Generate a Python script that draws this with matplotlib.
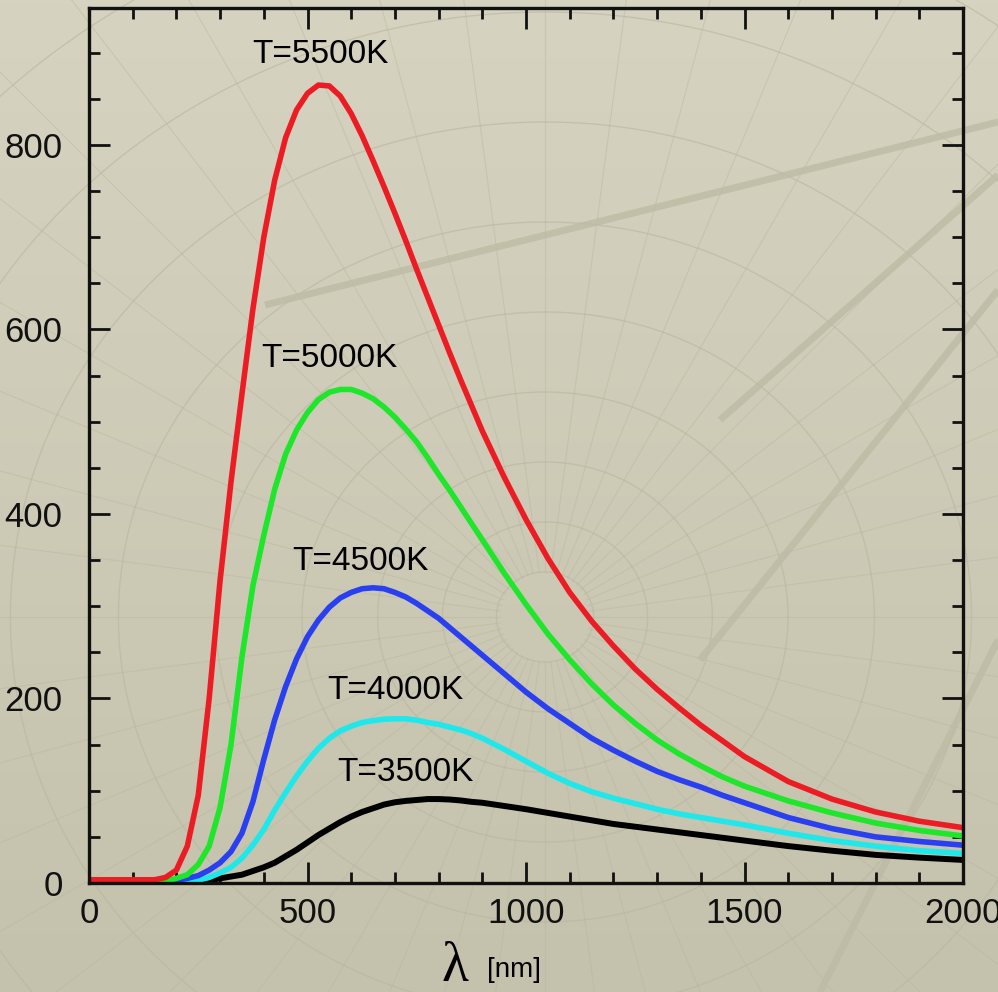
import numpy as np
import matplotlib
matplotlib.use("Agg")
import matplotlib.pyplot as plt
from matplotlib.ticker import MultipleLocator

# longitud de onda [nm]
lam = [0, 100, 150,
       175, 200, 225, 250, 275, 300, 325, 350, 375, 400, 425, 450, 475, 500, 525,
       550, 575, 600, 625, 650, 675, 700, 725, 750, 775, 800, 825, 850, 875, 900,
       950, 1000, 1050, 1100, 1150, 1200, 1250, 1300, 1350, 1400, 1450, 1500,
       1600, 1700, 1800, 1900, 2000]

t5500 = [3.5, 3.5, 3.5,
         6, 14, 40, 95, 200, 328, 435, 530, 622, 700, 762, 808, 838, 856, 865,
         864, 853, 834, 810, 783, 755, 726, 696, 665, 635, 605, 575, 546, 518, 490,
         440, 394, 352, 315, 284, 257, 232, 210, 190, 171, 154, 137,
         110, 91, 77, 67, 60]
t5000 = [1, 1, 1,
         2, 5, 9, 20, 40, 82, 150, 245, 322, 377, 427, 465, 491, 510, 524,
         532, 535, 535, 531, 525, 516, 505, 492, 478, 461, 443, 426, 408, 390, 372,
         336, 302, 270, 242, 216, 193, 173, 155, 140, 127, 115, 105,
         89, 76, 65, 57, 51]
t4500 = [0.8, 0.8, 1,
         1, 3, 5, 8, 14, 22, 34, 54, 88, 134, 177, 213, 243, 267, 285,
         299, 309, 315, 319, 320, 319, 315, 310, 303, 295, 287, 277, 267, 257, 247,
         227, 207, 189, 173, 157, 144, 132, 121, 112, 104, 95, 87,
         71, 59, 50, 45, 41]
t4000 = [0.5, 0.5, 0.5,
         0.5, 1, 2, 3, 6, 11, 17, 27, 41, 58, 79, 98, 116, 132, 146,
         157, 165, 170, 174, 176, 177.5, 178, 178, 176.5, 174, 172, 169, 166, 162, 157,
         145, 132, 119, 108, 99, 92, 86, 80, 75, 71, 67, 63,
         54, 46, 40, 35, 32]
t3500 = [0, 0, 0,
         0, 0.5, 1, 2, 3, 5, 7, 9, 13, 17, 22, 29, 36, 44, 52,
         59, 66, 72, 77, 81, 85, 87.5, 89, 90, 91, 91, 90.5, 89.5, 88, 87,
         83.5, 80, 76, 72, 68, 64, 61, 58, 55, 52, 49, 46,
         40, 35, 30.5, 27.5, 25]

etiquetas = ["T=5500K", "T=5000K", "T=4500K", "T=4000K", "T=3500K"]
pos_etiq = [(529, 898), (551, 569), (620, 348), (700, 209), (723, 120)]

fig = plt.figure(figsize=(9.98, 9.92), dpi=100)

# fondo con degradado y una rejilla polar decorativa
bg = fig.add_axes([0, 0, 1, 1], zorder=0)
grad = np.linspace(0, 1, 256)[:, None]
top = np.array([214, 212, 193]) / 255.0
bot = np.array([196, 194, 172]) / 255.0
img = top[None, None, :] * (1 - grad[:, :, None]) + bot[None, None, :] * grad[:, :, None]
bg.imshow(img, extent=[0, 998, 992, 0], aspect="auto")
cx, cy = 545, 617
th = np.linspace(0, 2 * np.pi, 400)
for r in [45, 95, 155, 225, 305, 395, 495, 605, 725, 855]:
    bg.plot(cx + r * 1.08 * np.cos(th), cy + r * np.sin(th), color="#b8b69f", lw=1.0, alpha=0.6)
for a in np.arange(0, 360, 7.5):
    ang = np.radians(a)
    bg.plot([cx + 45 * np.cos(ang), cx + 1400 * np.cos(ang)],
            [cy + 45 * np.sin(ang), cy + 1400 * np.sin(ang)], color="#b8b69f", lw=0.8, alpha=0.45)
for (x0, y0, x1, y1) in [(265, 305, 998, 122), (720, 420, 998, 175), (700, 660, 998, 290), (820, 992, 998, 640)]:
    bg.plot([x0, x1], [y0, y1], color="#bdbba4", lw=5, alpha=0.8, solid_capstyle="butt")
bg.set_xlim(0, 998)
bg.set_ylim(992, 0)
bg.axis("off")

ax = fig.add_axes([89 / 998, 1 - 883 / 992, 874 / 998, 875 / 992], zorder=1)
ax.patch.set_alpha(0)

ax.plot(lam, t3500, color="black", lw=4.3, solid_joinstyle="round")
ax.plot(lam, t4000, color="#20e8ea", lw=4.0, solid_joinstyle="round")
ax.plot(lam, t4500, color="#2a3ff0", lw=4.0, solid_joinstyle="round")
ax.plot(lam, t5000, color="#1ee62a", lw=4.0, solid_joinstyle="round")
ax.plot(lam, t5500, color="#ec1c24", lw=4.0, solid_joinstyle="round")

fuente = "Liberation Sans"
for txt, (x, y) in zip(etiquetas, pos_etiq):
    ax.text(x, y, txt, ha="center", va="center", fontsize=24, family=fuente)

ax.set_xlim(0, 2000)
ax.set_ylim(0, 948.5)
ax.xaxis.set_major_locator(MultipleLocator(500))
ax.xaxis.set_minor_locator(MultipleLocator(100))
ax.yaxis.set_major_locator(MultipleLocator(200))
ax.yaxis.set_minor_locator(MultipleLocator(50))
ax.tick_params(which="both", direction="in", top=True, right=True, width=2.0, color="#111111")
ax.tick_params(which="major", length=15)
ax.tick_params(which="minor", length=8)
ax.tick_params(axis="x", pad=10, labelsize=25)
ax.tick_params(axis="y", pad=19, labelsize=25)
for lbl in ax.get_xticklabels() + ax.get_yticklabels():
    lbl.set_family(fuente)
    lbl.set_color("#111111")
for s in ax.spines.values():
    s.set_linewidth(2.4)
    s.set_color("#111111")

fig.text(455 / 998, 1 - 967 / 992, "λ", ha="center", va="center", fontsize=40, family="Liberation Serif")
fig.text(514 / 998, 1 - 970 / 992, "[nm]", ha="center", va="center", fontsize=20, family=fuente)

plt.savefig("out.png", dpi=100)
